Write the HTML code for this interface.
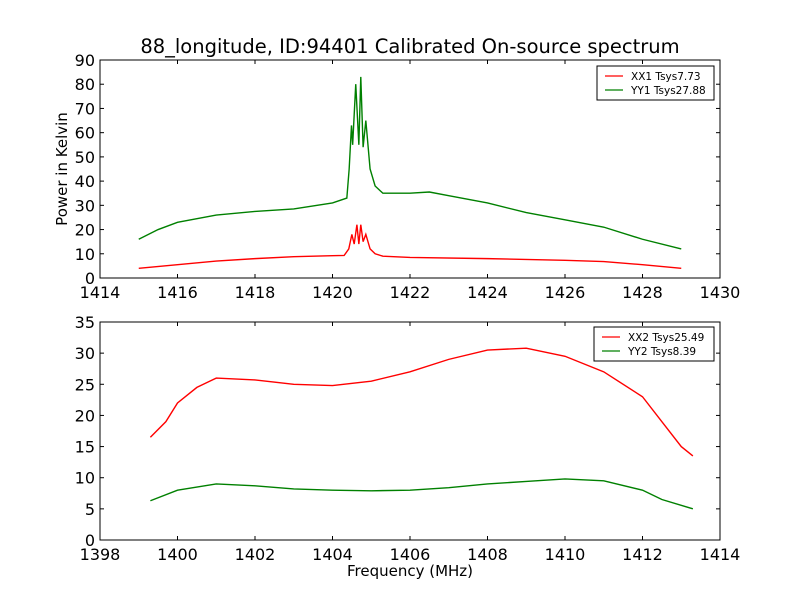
<!DOCTYPE html>
<html><head><meta charset="utf-8"><style>
body{margin:0;background:#fff}
svg{display:block;font-family:"DejaVu Sans","Liberation Sans",sans-serif}
</style></head><body>
<svg id="c" width="800" height="600">
<rect width="800" height="600" fill="#fff"/>
<text x="410" y="53" font-size="19.5" text-anchor="middle">88_longitude, ID:94401 Calibrated On-source spectrum</text>
<text x="67" y="169" font-size="15" text-anchor="middle" transform="rotate(-90 67 169)">Power in Kelvin</text>
<text x="410" y="576" font-size="15" text-anchor="middle">Frequency (MHz)</text>
<g id="g1"></g><g id="g2"></g>
</svg>
<script>
const topXX1x=[1415,1416,1417,1418,1419,1420,1420.3,1420.42,1420.5,1420.56,1420.63,1420.68,1420.73,1420.79,1420.86,1420.97,1421.1,1421.3,1422,1424,1426,1427,1428,1429];
const topXX1y=[4,5.5,7,8,8.8,9.2,9.3,12,18,14,22,14,22,15,18,12,10,9,8.5,8,7.3,6.8,5.5,4];
const topYY1x=[1415,1415.5,1416,1417,1418,1419,1420,1420.37,1420.43,1420.49,1420.52,1420.6,1420.68,1420.73,1420.79,1420.86,1420.97,1421.1,1421.3,1422,1422.5,1423,1424,1425,1426,1427,1428,1429];
const topYY1y=[16,20,23,26,27.5,28.5,31,33,45,63,55,80,55,83,54,65,45,38,35,35,35.5,34,31,27,24,21,16,12];
const botXX2x=[1399.3,1399.7,1400,1400.5,1401,1402,1403,1404,1405,1406,1407,1408,1409,1410,1411,1412,1412.5,1413,1413.3];
const botXX2y=[16.5,19,22,24.5,26,25.7,25,24.8,25.5,27,29,30.5,30.8,29.5,27,23,19,15,13.5];
const botYY2x=[1399.3,1400,1401,1402,1403,1404,1405,1406,1407,1408,1409,1410,1411,1412,1412.5,1413.3];
const botYY2y=[6.3,8,9,8.7,8.2,8,7.9,8,8.4,9,9.4,9.8,9.5,8,6.5,5];
const topXTicks=[1414,1416,1418,1420,1422,1424,1426,1428,1430];
const topYTicks=[0,10,20,30,40,50,60,70,80,90];
const botXTicks=[1398,1400,1402,1404,1406,1408,1410,1412,1414];
const botYTicks=[0,5,10,15,20,25,30,35];
const NS='http://www.w3.org/2000/svg';
function mk(p,t,a){const e=document.createElementNS(NS,t);for(const k in a)e.setAttribute(k,a[k]);p.appendChild(e);return e;}
function panel(g,box,xr,yr,xt,yt,series,leg){
 const sx=v=>box.x0+(v-xr[0])/(xr[1]-xr[0])*(box.x1-box.x0);
 const sy=v=>box.y1-(v-yr[0])/(yr[1]-yr[0])*(box.y1-box.y0);
 series.forEach(s=>{
  const pl=mk(g,'polyline',{points:s.x.map((v,i)=>sx(v)+','+sy(s.y[i])).join(' '),fill:'none',stroke:s.c,'stroke-width':1.4});
  
  
 });
 xt.forEach(v=>{const X=sx(v);
  mk(g,'line',{x1:X,x2:X,y1:box.y1,y2:box.y1-4,stroke:'#000'});
  mk(g,'line',{x1:X,x2:X,y1:box.y0,y2:box.y0+4,stroke:'#000'});
  const t=mk(g,'text',{x:X,y:box.y1+20,'font-size':16,'text-anchor':'middle'});t.textContent=v;
  
  
 });
 yt.forEach(v=>{const Y=sy(v);
  mk(g,'line',{x1:box.x0,x2:box.x0+4,y1:Y,y2:Y,stroke:'#000'});
  mk(g,'line',{x1:box.x1,x2:box.x1-4,y1:Y,y2:Y,stroke:'#000'});
  const t=mk(g,'text',{x:box.x0-5,y:Y+6,'font-size':16,'text-anchor':'end'});t.textContent=v;
  
  
 });
 const fr=mk(g,'rect',{x:box.x0,y:box.y0,width:box.x1-box.x0,height:box.y1-box.y0,fill:'none',stroke:'#000'});
 
 
 const lg=mk(g,'g',{});
 
 
 mk(lg,'rect',{x:leg.x,y:leg.y,width:leg.w,height:34,fill:'#fff',stroke:'#000'});
 series.forEach((s,i)=>{const Y=leg.y+10+i*14;
  mk(lg,'line',{x1:leg.x+8,x2:leg.x+26,y1:Y,y2:Y,stroke:s.c,'stroke-width':1.3});
  const t=mk(lg,'text',{x:leg.x+34,y:Y+4,'font-size':10.5});t.textContent=s.l;
  
  
 });
}
panel(document.getElementById('g1'),{x0:100,x1:720,y0:60,y1:278},[1414,1430],[0,90],topXTicks,topYTicks,
 [{x:topXX1x,y:topXX1y,c:'#ff0000',n:'xx1-line',l:'XX1 Tsys7.73'},{x:topYY1x,y:topYY1y,c:'#008000',n:'yy1-line',l:'YY1 Tsys27.88'}],{x:597,y:66,w:117});
panel(document.getElementById('g2'),{x0:100,x1:720,y0:322,y1:540},[1398,1414],[0,35],botXTicks,botYTicks,
 [{x:botXX2x,y:botXX2y,c:'#ff0000',n:'xx2-line',l:'XX2 Tsys25.49'},{x:botYY2x,y:botYY2y,c:'#008000',n:'yy2-line',l:'YY2 Tsys8.39'}],{x:594,y:327,w:120});
</script>
</body></html>
